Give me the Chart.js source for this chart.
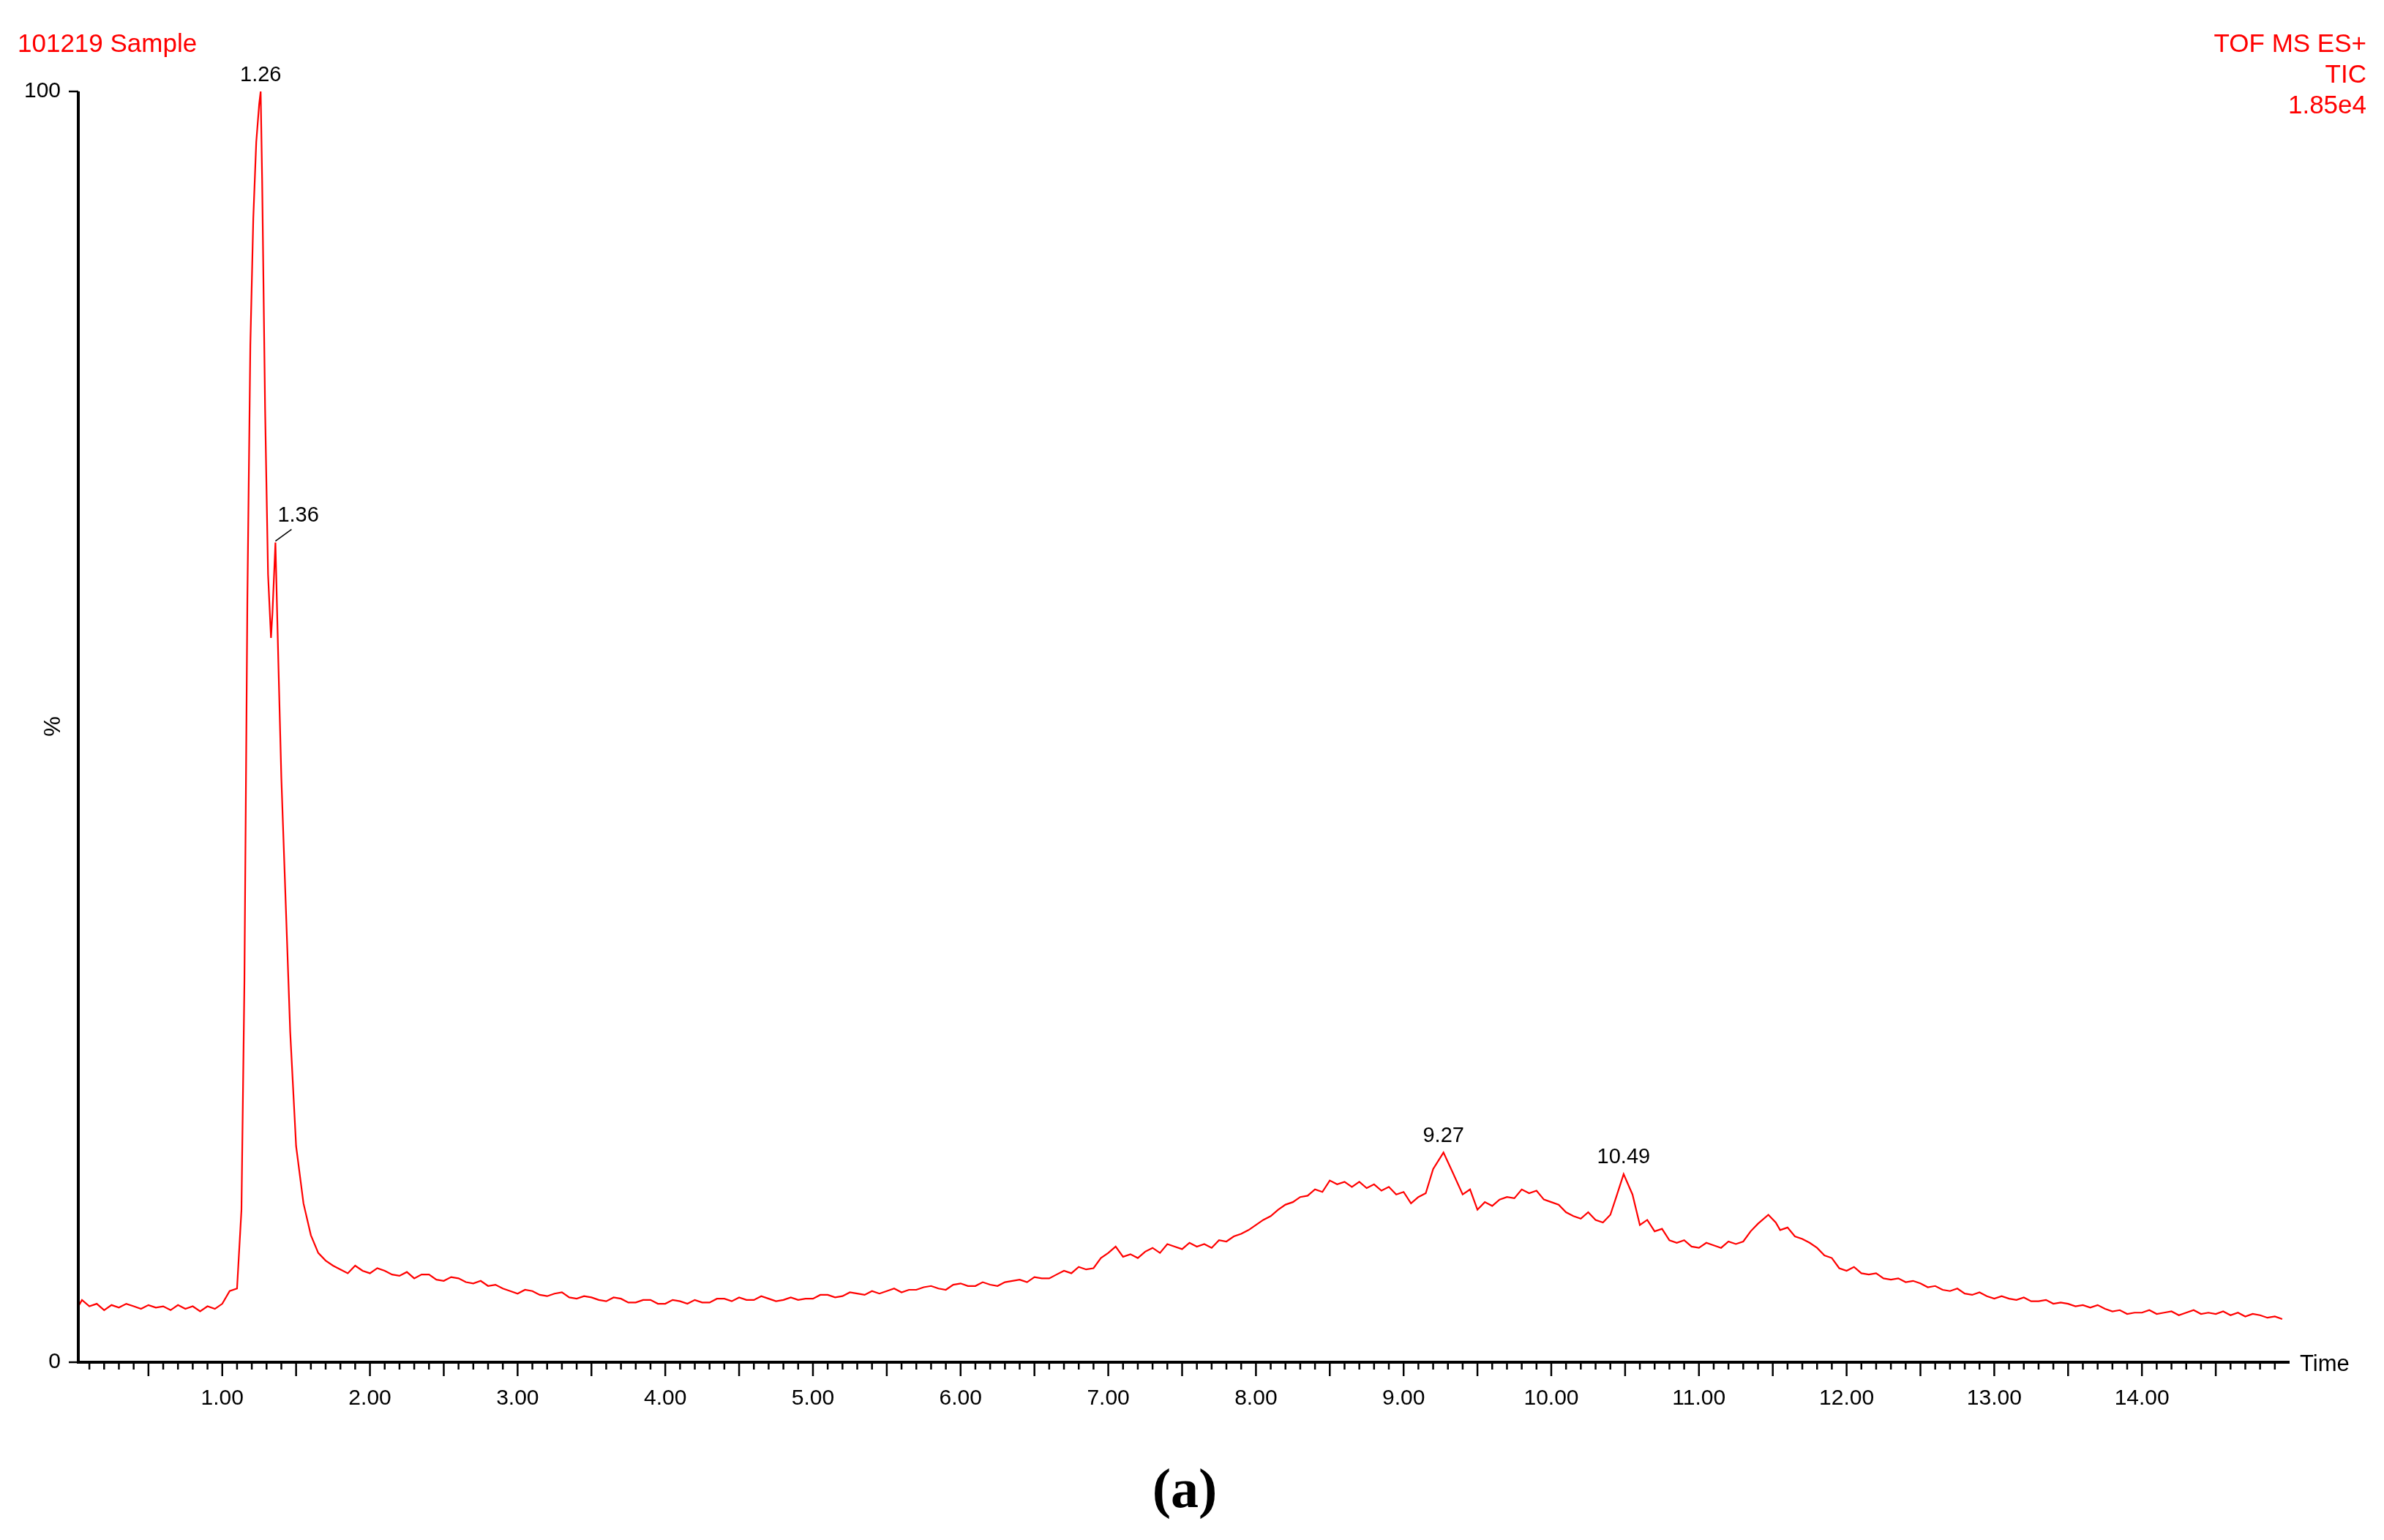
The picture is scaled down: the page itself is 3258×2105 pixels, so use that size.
<!DOCTYPE html>
<html><head><meta charset="utf-8">
<script src="https://cdn.jsdelivr.net/npm/chart.js@4/dist/chart.umd.min.js"></script>
<style>html,body{margin:0;padding:0;background:#fff}canvas{display:block}</style>
</head><body>
<canvas id="c" width="3258" height="2105"></canvas>
<script>
const times = [0.03,0.05,0.10,0.15,0.20,0.25,0.30,0.35,0.40,0.45,0.50,0.55,0.60,0.65,0.70,0.75,0.80,0.85,0.90,0.95,1.00,1.05,
1.10,1.13,1.15,1.17,1.19,1.21,1.23,1.25,1.26,1.27,1.29,1.31,1.33,1.34,1.36,1.38,1.40,1.43,1.46,1.50,1.55,1.60,1.65,
1.70,1.75,1.80,1.85,1.90,1.95,2.00,2.05,2.10,2.15,2.20,2.25,2.30,2.35,2.40,2.45,2.50,2.55,2.60,2.65,2.70,2.75,2.80,2.85,2.90,2.95,
3.00,3.05,3.10,3.15,3.20,3.25,3.30,3.35,3.40,3.45,3.50,3.55,3.60,3.65,3.70,3.75,3.80,3.85,3.90,3.95,
4.00,4.05,4.10,4.15,4.20,4.25,4.30,4.35,4.40,4.45,4.50,4.55,4.60,4.65,4.70,4.75,4.80,4.85,4.90,4.95,
5.00,5.05,5.10,5.15,5.20,5.25,5.30,5.35,5.40,5.45,5.50,5.55,5.60,5.65,5.70,5.75,5.80,5.85,5.90,5.95,
6.00,6.05,6.10,6.15,6.20,6.25,6.30,6.35,6.40,6.45,6.50,6.55,6.60,6.65,6.70,6.75,6.80,6.85,6.90,6.95,
7.00,7.05,7.10,7.15,7.20,7.25,7.30,7.35,7.40,7.45,7.50,7.55,7.60,7.65,7.70,7.75,7.80,7.85,7.90,7.95,
8.00,8.05,8.10,8.15,8.20,8.25,8.30,8.35,8.40,8.45,8.50,8.55,8.60,8.65,8.70,8.75,8.80,8.85,8.90,8.95,
9.00,9.05,9.10,9.15,9.20,9.27,9.33,9.40,9.45,9.50,9.55,9.60,9.65,9.70,9.75,9.80,9.85,9.90,9.95,
10.00,10.05,10.10,10.15,10.20,10.25,10.30,10.35,10.40,10.44,10.49,10.55,10.60,10.65,10.70,10.75,10.80,10.85,10.90,10.95,
11.00,11.05,11.10,11.15,11.20,11.25,11.30,11.35,11.40,11.47,11.52,11.55,11.60,11.65,11.70,11.75,11.80,11.85,11.90,11.95,
12.00,12.05,12.10,12.15,12.20,12.25,12.30,12.35,12.40,12.45,12.50,12.55,12.60,12.65,12.70,12.75,12.80,12.85,12.90,12.95,
13.00,13.05,13.10,13.15,13.20,13.25,13.30,13.35,13.40,13.45,13.50,13.55,13.60,13.65,13.70,13.75,13.80,13.85,13.90,13.95,
14.00,14.05,14.10,14.15,14.20,14.25,14.30,14.35,14.40,14.45,14.50,14.55,14.60,14.65,14.70,14.75,14.80,14.85,14.90,14.95];
const intensity = [4.5,4.9,4.4,4.6,4.1,4.5,4.3,4.6,4.4,4.2,4.5,4.3,4.4,4.1,4.5,4.2,4.4,4.0,4.4,4.2,4.6,5.6,
5.8,12,30,60,80,90,96,99,100,93,75,62,57,59,64.5,55,46,36,26,17,12.5,10,8.6,
8.0,7.6,7.3,7.0,7.6,7.2,7.0,7.4,7.2,6.9,6.8,7.1,6.6,6.9,6.9,6.5,6.4,6.7,6.6,6.3,6.2,6.4,6.0,6.1,5.8,5.6,
5.4,5.7,5.6,5.3,5.2,5.4,5.5,5.1,5.0,5.2,5.1,4.9,4.8,5.1,5.0,4.7,4.7,4.9,4.9,4.6,
4.6,4.9,4.8,4.6,4.9,4.7,4.7,5.0,5.0,4.8,5.1,4.9,4.9,5.2,5.0,4.8,4.9,5.1,4.9,5.0,
5.0,5.3,5.3,5.1,5.2,5.5,5.4,5.3,5.6,5.4,5.6,5.8,5.5,5.7,5.7,5.9,6.0,5.8,5.7,6.1,
6.2,6.0,6.0,6.3,6.1,6.0,6.3,6.4,6.5,6.3,6.7,6.6,6.6,6.9,7.2,7.0,7.5,7.3,7.4,8.2,
8.6,9.1,8.3,8.5,8.2,8.7,9.0,8.6,9.3,9.1,8.9,9.4,9.1,9.3,9.0,9.6,9.5,9.9,10.1,10.4,
10.8,11.2,11.5,12.0,12.4,12.6,13.0,13.1,13.6,13.4,14.3,14.0,14.2,13.8,14.2,13.7,14.0,13.5,13.8,13.2,
13.4,12.5,13.0,13.3,15.2,16.5,15.0,13.2,13.6,12.0,12.6,12.3,12.8,13.0,12.9,13.6,13.3,13.5,12.8,
12.6,12.4,11.8,11.5,11.3,11.8,11.2,11.0,11.6,13.0,14.8,13.2,10.8,11.2,10.3,10.5,9.6,9.4,9.6,9.1,
9.0,9.4,9.2,9.0,9.5,9.3,9.5,10.3,10.9,11.6,11.0,10.4,10.6,9.9,9.7,9.4,9.0,8.4,8.2,7.4,
7.2,7.5,7.0,6.9,7.0,6.6,6.5,6.6,6.3,6.4,6.2,5.9,6.0,5.7,5.6,5.8,5.4,5.3,5.5,5.2,
5.0,5.2,5.0,4.9,5.1,4.8,4.8,4.9,4.6,4.7,4.6,4.4,4.5,4.3,4.5,4.2,4.0,4.1,3.8,3.9,
3.9,4.1,3.8,3.9,4.0,3.7,3.9,4.1,3.8,3.9,3.8,4.0,3.7,3.9,3.6,3.8,3.7,3.5,3.6,3.4];
const majorTicks = [1,2,3,4,5,6,7,8,9,10,11,12,13,14];
const yTicks = [0,100];
const peakLabels = [{t:1.26,v:100,txt:"1.26"},{t:1.36,v:64.5,txt:"1.36",lead:true},{t:9.27,v:16.5,txt:"9.27"},{t:10.49,v:14.8,txt:"10.49"}];

const FONT = '"Liberation Sans", Arial, sans-serif';
const deco = {
  id:'deco',
  afterDraw(ch){
    const c=ch.ctx, x=ch.scales.x, y=ch.scales.y, a=ch.chartArea;
    c.save();
    c.strokeStyle='#000'; c.lineWidth=4;
    c.beginPath(); c.moveTo(a.left,y.getPixelForValue(100)); c.lineTo(a.left,a.bottom); c.lineTo(a.right,a.bottom); c.stroke();
    c.lineWidth=2.5;
    yTicks.forEach(v=>{const py=y.getPixelForValue(v); c.beginPath(); c.moveTo(a.left-13,py); c.lineTo(a.left,py); c.stroke();});
    for(let i=1;i<151;i++){
      const v=i/10; const px=x.getPixelForValue(v);
      if(px>a.right-4) break;
      const len=(i%5===0)?19:10;
      c.beginPath(); c.moveTo(px,a.bottom); c.lineTo(px,a.bottom+len); c.stroke();
    }
    c.fillStyle='#000'; c.font='29px '+FONT; c.textAlign='center'; c.textBaseline='bottom';
    peakLabels.forEach(p=>{
      const px=x.getPixelForValue(p.t), py=y.getPixelForValue(p.v);
      if(p.lead){
        c.lineWidth=1.5; c.beginPath(); c.moveTo(px,py-2); c.lineTo(px+22,py-18); c.stroke();
        c.textAlign='left'; c.fillText(p.txt,px+3,py-22); c.textAlign='center';
      } else c.fillText(p.txt,px,py-8);
    });
    c.fillStyle='#ff0000'; c.font='35px '+FONT; c.textBaseline='middle';
    c.textAlign='left'; c.fillText('101219 Sample',24,61);
    c.textAlign='right'; c.fillText('TOF MS ES+',3234,61); c.fillText('TIC',3234,103); c.fillText('1.85e4',3234,145);
    c.fillStyle='#000'; c.font='31px '+FONT; c.textAlign='left';
    c.fillText('Time',3143,1865);
    c.save(); c.translate(73,993); c.rotate(-Math.PI/2); c.textAlign='center'; c.fillText('%',0,0); c.restore();
    c.font='bold 76px "Liberation Serif", serif'; c.textAlign='center';
    c.fillText('(a)',1619,2040);
    c.restore();
  }
};

new Chart(document.getElementById('c'),{
  type:'line',
  data:{datasets:[{data:times.map((t,i)=>({x:t,y:intensity[i]})),borderColor:'#ff0000',borderWidth:2.2,pointRadius:0,tension:0,fill:false}]},
  options:{
    responsive:false,animation:false,devicePixelRatio:1,
    layout:{padding:{top:125,right:129,bottom:0,left:0}},
    plugins:{legend:{display:false},tooltip:{enabled:false}},
    scales:{
      x:{type:'linear',min:0.025,max:15.0,
        afterFit(s){s.height=243;},
        afterBuildTicks(s){s.ticks=majorTicks.map(v=>({value:v}));},
        grid:{display:false},border:{display:false},
        ticks:{padding:24,font:{size:30,family:FONT},color:'#000',maxRotation:0,autoSkip:false,callback:v=>v.toFixed(2)}},
      y:{type:'linear',min:0,max:100,
        afterFit(s){s.width=107;},
        afterBuildTicks(s){s.ticks=yTicks.map(v=>({value:v}));},
        grid:{display:false},border:{display:false},
        ticks:{padding:16,font:{size:30,family:FONT},color:'#000'}}
    }
  },
  plugins:[deco]
});
</script>
</body></html>
